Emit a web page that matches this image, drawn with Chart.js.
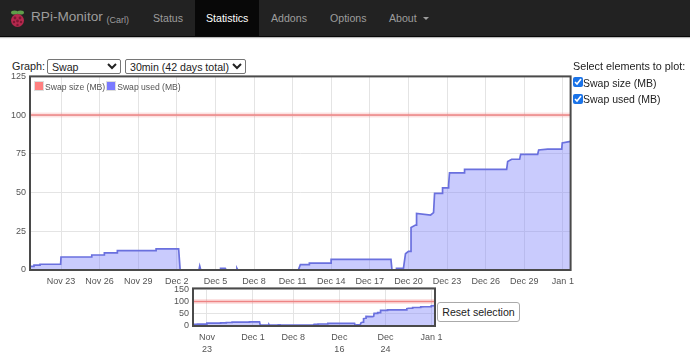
<!DOCTYPE html>
<html>
<head>
<meta charset="utf-8">
<title>RPi-Monitor</title>
<script src="https://cdn.jsdelivr.net/npm/chart.js@4"></script>
<style>
  html, body { margin: 0; padding: 0; background: #fff; }
  body { width: 690px; height: 358px; overflow: hidden; position: relative;
         font-family: "Liberation Sans", Arial, sans-serif; font-size: 10.8px; color: #222; }
  .abs { position: absolute; white-space: nowrap; }
  #navbar { left: 0; top: 0; width: 690px; height: 36px; background: #222; border-bottom: 1px solid #080808;
            box-shadow: 0 1px 1px #bbb; }
  #active { left: 195px; top: 0; width: 64px; height: 36px; background: #080808; }
  .nav { top: 10px; color: #9d9d9d; font-size: 10.6px; line-height: 16px; }
  select { position: absolute; height: 15px; box-sizing: border-box; padding: 0; margin: 0; background: #fff;
           border: 1px solid #767676; border-radius: 2px; font: 10.6px "Liberation Sans", Arial, sans-serif; color: #222; }
  input[type=checkbox] { position: absolute; margin: 0; width: 10px; height: 10px; accent-color: #1a73e8; }
  #mainBox { left: 0; top: 67px; width: 580px; height: 225px; }
  #overviewBox { left: 165px; top: 279px; width: 285px; height: 79px; }
  #legend { left: 34px; top: 79px; font-size: 8.6px; color: #545454; height: 16px; line-height: 16px; }
  .sw { display: inline-block; width: 8px; height: 8px; border: 1px solid #ddd; padding: 0; vertical-align: -1px; margin-right: 1px; }
  #reset { left: 437px; top: 302px; width: 83px; height: 20px; box-sizing: border-box; padding: 0; background: #fff;
           border: 1px solid #aaa; border-radius: 3px; font: 10.6px "Liberation Sans", Arial, sans-serif; color: #222; }
</style>
</head>
<body>
<div class="abs" id="navbar"></div>
<div class="abs" id="active"></div>
<svg class="abs" style="left:10px;top:10px" width="15" height="18" viewBox="0 0 15 18">
  <ellipse cx="4.5" cy="2.5" rx="3.5" ry="2" fill="#5f9e4a"/>
  <ellipse cx="10.5" cy="2.5" rx="3.5" ry="2" fill="#5f9e4a"/>
  <circle cx="7.5" cy="10.5" r="6.5" fill="#b5294e"/>
  <circle cx="5" cy="8" r="1.4" fill="#7c1733"/><circle cx="10" cy="8" r="1.4" fill="#7c1733"/>
  <circle cx="7.5" cy="11" r="1.4" fill="#7c1733"/><circle cx="4" cy="12" r="1.2" fill="#7c1733"/>
  <circle cx="11" cy="12" r="1.2" fill="#7c1733"/><circle cx="7.5" cy="15" r="1.2" fill="#7c1733"/>
</svg>
<div class="abs nav" style="left:31px;top:9px;font-size:13.6px">RPi-Monitor <span style="font-size:9px;position:relative;top:2px">(Carl)</span></div>
<div class="abs nav" style="left:153px">Status</div>
<div class="abs nav" style="left:206px;color:#fff">Statistics</div>
<div class="abs nav" style="left:271px">Addons</div>
<div class="abs nav" style="left:330px">Options</div>
<div class="abs nav" style="left:389px">About</div>
<div class="abs" style="left:423px;top:17px;width:0;height:0;border-left:3px solid transparent;border-right:3px solid transparent;border-top:3px solid #9d9d9d"></div>

<div class="abs" style="left:12px;top:59px;line-height:15px">Graph:</div>
<select style="left:47px;top:59px;width:74px"><option>Swap</option></select>
<select style="left:125px;top:59px;width:121px"><option>30min (42 days total)</option></select>

<div class="abs" id="mainBox"><canvas id="mainChart"></canvas></div>
<div class="abs" id="legend"><span class="sw" style="background:#ff8080"></span>Swap size (MB)<span class="sw" style="background:#7a7aff;margin-left:1px"></span>Swap used (MB)</div>

<div class="abs" style="left:573px;top:59px;line-height:15px">Select elements to plot:</div>
<input type="checkbox" checked style="left:573px;top:77px">
<div class="abs" style="left:583px;top:76px;line-height:15px;font-size:10.5px">Swap size (MB)</div>
<input type="checkbox" checked style="left:573px;top:94px">
<div class="abs" style="left:583px;top:92px;line-height:15px;font-size:10.5px">Swap used (MB)</div>

<div class="abs" id="overviewBox"><canvas id="overviewChart"></canvas></div>
<button class="abs" id="reset">Reset selection</button>

<script>
// Time axis is in days since Nov 23
const xMin = -2.41;
const xMax = 39.6;

const mainTickDays = [0, 3, 6, 9, 12, 15, 18, 21, 24, 27, 30, 33, 36, 39];
const mainTickLabels = ['Nov 23', 'Nov 26', 'Nov 29', 'Dec 2', 'Dec 5', 'Dec 8', 'Dec 11', 'Dec 14', 'Dec 17', 'Dec 20', 'Dec 23', 'Dec 26', 'Dec 29', 'Jan 1'];
const mainYTicks = [0, 25, 50, 75, 100, 125];

const overviewTickDays = [0, 8, 15, 23, 31, 39];
const overviewTickLabels = [['Nov', '23'], 'Dec 1', 'Dec 8', ['Dec', '16'], ['Dec', '24'], 'Jan 1'];
const overviewYTicks = [0, 50, 100, 150];

const swapSizeDays = [-2.41, 39.6];
const swapSize = [100, 100];

// Steps are written as two points
const swapUsedDays = [
  -2.41, -2.1, -2.1, -1.63, -1.63, -0.03, 0, 2.39, 2.39, 3.37, 3.37, 4.38, 4.38, 7.39, 7.39, 9.14, 9.26,
  10.72, 10.78, 10.86, 12.37, 12.4, 12.76, 12.8, 13.62, 13.67, 13.73,
  18.44, 18.6, 19.3, 19.3, 20.99, 20.99, 25.64, 25.72, 26.07, 26.07, 26.61,
  26.77, 27, 27.2, 27.2, 27.55, 27.63, 27.63, 28.72, 28.95, 29.03, 29.65, 29.65, 30.12, 30.12, 30.19,
  31.36, 31.36, 34.63, 34.71, 35.02, 35.64, 35.72, 37.04, 37.12, 37.82, 38.91, 38.95, 39.6
];
const swapUsed = [
  2.3, 2.3, 3.2, 3.2, 3.7, 3.7, 8.4, 8.4, 9.7, 9.7, 11, 11, 12.5, 12.5, 13.7, 13.7, 0,
  0, 2.5, 0, 0, 1, 1, 0, 0, 1, 0,
  0, 3.5, 3.5, 4.5, 4.5, 6.8, 6.8, 0, 0, 1, 1,
  10.5, 12, 12, 27.5, 29, 29, 36.5, 35.5, 37, 49.5, 49.5, 53, 53, 55, 62.7,
  62.7, 65, 65, 70, 71.5, 71.5, 74.7, 74.7, 77.5, 78, 78, 82, 83
];

const tickColor = '#545454';
const gridColor = '#e4e4e4';
const tickFont = { family: '"Liberation Sans", Arial, sans-serif', size: 9 };

function toPoints(xs, ys) {
  return xs.map((x, i) => ({ x: x, y: ys[i] }));
}

// Marco oscuro alrededor del area del grafico
const frame = {
  id: 'frame',
  afterDraw(chart) {
    const a = chart.chartArea;
    const c = chart.ctx;
    c.save();
    c.strokeStyle = '#4a4a4a';
    c.lineWidth = 2;
    c.strokeRect(a.left, a.top, a.width, a.height);
    c.restore();
  }
};

function seriesList() {
  return [
    { data: toPoints(swapSizeDays, swapSize), borderColor: 'rgba(240,110,110,0.2)', borderWidth: 5, pointRadius: 0 },
    { data: toPoints(swapSizeDays, swapSize), borderColor: '#ee8a8a', borderWidth: 1.5, pointRadius: 0 },
    { data: toPoints(swapUsedDays, swapUsed), borderColor: '#6a70de', borderWidth: 1.7, pointRadius: 0,
      backgroundColor: 'rgba(120,125,250,0.4)', fill: 'origin', tension: 0 }
  ];
}

function makeChart(id, cfg) {
  return new Chart(document.getElementById(id).getContext('2d'), {
    type: 'line',
    data: { datasets: seriesList() },
    options: {
      responsive: true,
      maintainAspectRatio: false,
      animation: false,
      layout: { padding: cfg.padding },
      plugins: { legend: { display: false }, tooltip: { enabled: false } },
      scales: {
        x: {
          type: 'linear',
          min: xMin,
          max: xMax,
          grid: { color: gridColor, lineWidth: 1, drawTicks: false },
          border: { display: false },
          afterBuildTicks(axis) { axis.ticks = cfg.tickDays.map(v => ({ value: v })); },
          afterFit(axis) { axis.height = cfg.xHeight; },
          ticks: {
            color: tickColor,
            font: Object.assign({ lineHeight: cfg.lineHeight }, tickFont),
            padding: cfg.xPad,
            autoSkip: false,
            maxRotation: 0,
            callback: (v) => cfg.tickLabels[cfg.tickDays.indexOf(v)]
          }
        },
        y: {
          min: cfg.yMin,
          max: cfg.yMax,
          grid: { color: gridColor, lineWidth: 1, drawTicks: false },
          border: { display: false },
          afterBuildTicks(axis) { axis.ticks = cfg.yTicks.map(v => ({ value: v })); },
          afterFit(axis) { axis.width = cfg.yWidth; },
          ticks: { color: tickColor, font: tickFont, padding: 4, autoSkip: false, callback: (v) => String(v) }
        }
      }
    },
    plugins: [frame]
  });
}

makeChart('mainChart', {
  padding: { top: 2, right: 8, left: 0, bottom: 2 },
  tickDays: mainTickDays, tickLabels: mainTickLabels, yTicks: mainYTicks,
  yMin: 0, yMax: 125, yWidth: 30, xHeight: 20, xPad: 6, lineHeight: 1.2
});

makeChart('overviewChart', {
  padding: { top: 2, right: 15, left: 0, bottom: 3 },
  tickDays: overviewTickDays, tickLabels: overviewTickLabels, yTicks: overviewYTicks,
  yMin: -4, yMax: 156, yWidth: 28, xHeight: 29, xPad: 6, lineHeight: 1.3
});
</script>
</body>
</html>
